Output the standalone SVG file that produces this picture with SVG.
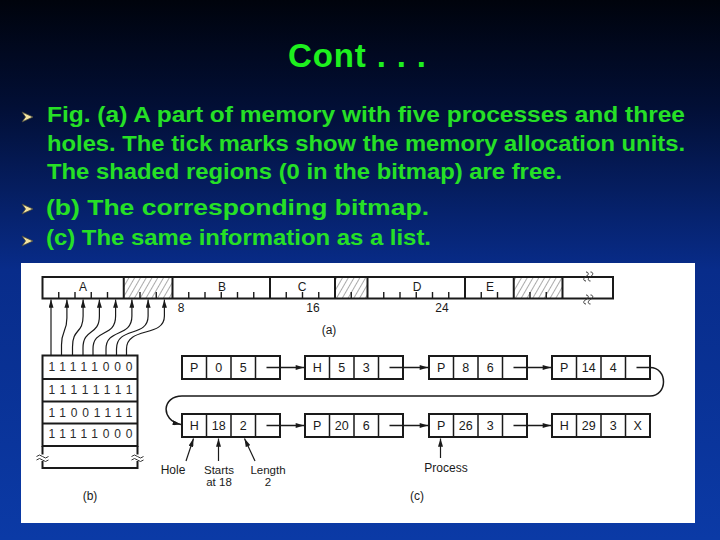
<svg xmlns="http://www.w3.org/2000/svg" width="720" height="540" viewBox="0 0 720 540">
<defs>
<linearGradient id="bg" x1="0" y1="0" x2="0" y2="1">
<stop offset="0" stop-color="#00030c"/>
<stop offset="0.2" stop-color="#020f36"/>
<stop offset="0.5" stop-color="#082c8a"/>
<stop offset="1" stop-color="#0b3aa6"/>
</linearGradient>
<pattern id="hatch" width="5" height="5" patternUnits="userSpaceOnUse" patternTransform="rotate(30)">
<line x1="0" y1="0" x2="0" y2="5" stroke="#444" stroke-width="0.9"/>
</pattern>
<marker id="ah" viewBox="0 0 10 6" refX="10" refY="3" markerWidth="9" markerHeight="5" orient="auto" markerUnits="userSpaceOnUse">
<path d="M0,0 L10,3 L0,6 z" fill="#1a1a1a"/>
</marker>
<style>
.ttl{font-family:"Liberation Sans",Arial,sans-serif;font-weight:bold;font-size:33px;fill:#1ef01e}
.bul{font-family:"Liberation Sans",Arial,sans-serif;font-weight:bold;font-size:22px;fill:#26e026}
.fig{font-family:"Liberation Sans",Arial,sans-serif;font-size:12px;fill:#1a1a1a}
.sm{font-size:11.5px}
.cell{font-family:"Liberation Sans",Arial,sans-serif;font-size:12.5px;fill:#1a1a1a;text-anchor:middle}
.bits{font-family:"Liberation Sans",Arial,sans-serif;font-size:12px;fill:#2a2a2a}
.box{fill:#fff;stroke:#1a1a1a;stroke-width:2}
.ln{fill:none;stroke:#1a1a1a;stroke-width:1.5}
.thin{fill:none;stroke:#1a1a1a;stroke-width:1.2}
.mid{text-anchor:middle}
.bp{fill:#f3e3a0;stroke:#4a4a3a;stroke-width:0.8}
</style>
</defs>
<rect width="720" height="540" fill="url(#bg)"/>

<g id="title">
<text class="ttl" x="288" y="67" textLength="138" lengthAdjust="spacing">Cont . . .</text>
</g>

<g id="bullets">
<polygon class="bp" points="22,112 33,117 22,122 25.5,117"/>
<polygon class="bp" points="22,204 33,209 22,214 25.5,209"/>
<polygon class="bp" points="22,236 33,241 22,246 25.5,241"/>
<text class="bul" x="47" y="122" textLength="638" lengthAdjust="spacingAndGlyphs">Fig. (a) A part of memory with five processes and three</text>
<text class="bul" x="47" y="150.5" textLength="638" lengthAdjust="spacingAndGlyphs">holes. The tick marks show the memory allocation units.</text>
<text class="bul" x="47" y="178.5" textLength="515" lengthAdjust="spacingAndGlyphs">The shaded regions (0 in the bitmap) are free.</text>
<text class="bul" x="46" y="215" textLength="383" lengthAdjust="spacingAndGlyphs">(b) The corresponding bitmap.</text>
<text class="bul" x="46" y="245" textLength="385" lengthAdjust="spacingAndGlyphs">(c) The same information as a list.</text>
</g>

<rect id="panel" x="21" y="263" width="674" height="260" fill="#ffffff"/>

<g id="memory">
<rect x="123.75" y="277" width="48.75" height="21.5" fill="url(#hatch)"/>
<rect x="335" y="277" width="32.5" height="21.5" fill="url(#hatch)"/>
<rect x="513.75" y="277" width="48.75" height="21.5" fill="url(#hatch)"/>
<rect x="42.5" y="277" width="570.5" height="21.5" fill="none" stroke="#1a1a1a" stroke-width="2"/>
<path d="M123.75,277V298.5M172.5,277V298.5M270,277V298.5M335,277V298.5M367.5,277V298.5M465,277V298.5M513.75,277V298.5M562.5,277V298.5" stroke="#1a1a1a" stroke-width="2"/>
<path d="M58.75,298v-6M75,298v-6M91.25,298v-6M107.5,298v-6M140,298v-6M156.25,298v-6M188.75,298v-6M205,298v-6M221.25,298v-6M237.5,298v-6M253.75,298v-6M286.25,298v-6M302.5,298v-6M318.75,298v-6M351.25,298v-6M383.75,298v-6M400,298v-6M416.25,298v-6M432.5,298v-6M448.75,298v-6M481.25,298v-6M497.5,298v-6M530,298v-6M546.25,298v-6" stroke="#1a1a1a" stroke-width="1.4"/>
<path d="M586,272 c3,0 3,3 0,4.5 c-3,1.5 -3,4.5 0,4.5 M590.5,272 c3,0 3,3 0,4.5 c-3,1.5 -3,4.5 0,4.5 M586,295 c3,0 3,3 0,4.5 c-3,1.5 -3,4.5 0,4.5 M590.5,295 c3,0 3,3 0,4.5 c-3,1.5 -3,4.5 0,4.5" fill="none" stroke="#333" stroke-width="1"/>
<text class="fig mid" x="83" y="290.5" font-size="11">A</text>
<text class="fig mid" x="222" y="290.5" font-size="11">B</text>
<text class="fig mid" x="302" y="290.5" font-size="11">C</text>
<text class="fig mid" x="417" y="290.5" font-size="11">D</text>
<text class="fig mid" x="490" y="290.5" font-size="11">E</text>
<text class="fig mid" x="181" y="311.5">8</text>
<text class="fig mid" x="313" y="311.5">16</text>
<text class="fig mid" x="442" y="311.5">24</text>
<text class="fig mid" x="329" y="333.5">(a)</text>
</g>

<g id="bitmap">
<rect x="42.5" y="355.5" width="95" height="90.5" fill="#fff" stroke="#1a1a1a" stroke-width="2"/>
<path d="M42.5,379H137.5M42.5,401.5H137.5M42.5,423.5H137.5" stroke="#1a1a1a" stroke-width="2"/>
<path d="M42.5,446V454.5M42.5,461V468H137.5V461M137.5,454.5V446" fill="none" stroke="#1a1a1a" stroke-width="2"/>
<path d="M36.5,456.5 q3,-3 6,0 t6,0 M36.5,460 q3,-3 6,0 t6,0 M131.5,456.5 q3,-3 6,0 t6,0 M131.5,460 q3,-3 6,0 t6,0" fill="none" stroke="#333" stroke-width="1"/>
<text class="bits" x="48.5" y="371" textLength="84" lengthAdjust="spacing">11111000</text>
<text class="bits" x="48.5" y="394" textLength="84" lengthAdjust="spacing">11111111</text>
<text class="bits" x="48.5" y="416.5" textLength="84" lengthAdjust="spacing">11001111</text>
<text class="bits" x="48.5" y="438" textLength="84" lengthAdjust="spacing">11111000</text>
<text class="fig mid" x="90" y="500">(b)</text>
</g>

<g id="n1"><rect class="box" x="182" y="356" width="98" height="23"/><path class="ln" d="M206.5,356V379M231,356V379M255.5,356V379" stroke-width="2"/><text class="cell" x="194.25" y="372">P</text><text class="cell" x="218.75" y="372">0</text><text class="cell" x="243.25" y="372">5</text></g>
<g id="n2"><rect class="box" x="305" y="356" width="98" height="23"/><path class="ln" d="M329.5,356V379M354,356V379M378.5,356V379" stroke-width="2"/><text class="cell" x="317.25" y="372">H</text><text class="cell" x="341.75" y="372">5</text><text class="cell" x="366.25" y="372">3</text></g>
<g id="n3"><rect class="box" x="429" y="356" width="98" height="23"/><path class="ln" d="M453.5,356V379M478,356V379M502.5,356V379" stroke-width="2"/><text class="cell" x="441.25" y="372">P</text><text class="cell" x="465.75" y="372">8</text><text class="cell" x="490.25" y="372">6</text></g>
<g id="n4"><rect class="box" x="552" y="356" width="98" height="23"/><path class="ln" d="M576.5,356V379M601,356V379M625.5,356V379" stroke-width="2"/><text class="cell" x="564.25" y="372">P</text><text class="cell" x="588.75" y="372">14</text><text class="cell" x="613.25" y="372">4</text></g>
<g id="n5"><rect class="box" x="182" y="414" width="98" height="23"/><path class="ln" d="M206.5,414V437M231,414V437M255.5,414V437" stroke-width="2"/><text class="cell" x="194.25" y="430">H</text><text class="cell" x="218.75" y="430">18</text><text class="cell" x="243.25" y="430">2</text></g>
<g id="n6"><rect class="box" x="305" y="414" width="98" height="23"/><path class="ln" d="M329.5,414V437M354,414V437M378.5,414V437" stroke-width="2"/><text class="cell" x="317.25" y="430">P</text><text class="cell" x="341.75" y="430">20</text><text class="cell" x="366.25" y="430">6</text></g>
<g id="n7"><rect class="box" x="429" y="414" width="98" height="23"/><path class="ln" d="M453.5,414V437M478,414V437M502.5,414V437" stroke-width="2"/><text class="cell" x="441.25" y="430">P</text><text class="cell" x="465.75" y="430">26</text><text class="cell" x="490.25" y="430">3</text></g>
<g id="n8"><rect class="box" x="552" y="414" width="98" height="23"/><path class="ln" d="M576.5,414V437M601,414V437M625.5,414V437" stroke-width="2"/><text class="cell" x="564.25" y="430">H</text><text class="cell" x="588.75" y="430">29</text><text class="cell" x="613.25" y="430">3</text><text class="cell" x="637.75" y="430">X</text></g>

<g id="labels">
<text class="fig mid" x="173" y="474">Hole</text>
<text class="fig sm mid" x="219" y="473.5">Starts</text>
<text class="fig sm mid" x="219" y="486">at 18</text>
<text class="fig sm mid" x="268" y="473.5">Length</text>
<text class="fig sm mid" x="268" y="486">2</text>
<text class="fig mid" x="446" y="472">Process</text>
<text class="fig mid" x="417" y="500">(c)</text>
</g>

<g id="connectors">
<path class="thin" marker-end="url(#ah)" d="M51,355.5V299.5"/>
<path class="thin" marker-end="url(#ah)" d="M61.5,355.5V345C61.5,330 66.9,332 66.9,318V299.5"/>
<path class="thin" marker-end="url(#ah)" d="M72.5,355.5V347C72.5,328 83.1,334 83.1,316V299.5"/>
<path class="thin" marker-end="url(#ah)" d="M83,355.5V348C83,328 99.4,336 99.4,316V299.5"/>
<path class="thin" marker-end="url(#ah)" d="M93,355.5V349C93,328 115.6,338 115.6,316V299.5"/>
<path class="thin" marker-end="url(#ah)" d="M106,355.5V349C106,328 131.9,338 131.9,316V299.5"/>
<path class="thin" marker-end="url(#ah)" d="M116.5,355.5V349C116.5,326 148.1,338 148.1,316V299.5"/>
<path class="thin" marker-end="url(#ah)" d="M126.5,355.5V349C126.5,326 164.4,338 164.4,316V299.5"/>
<path class="ln" marker-end="url(#ah)" d="M266.5,367.5H304"/>
<path class="ln" marker-end="url(#ah)" d="M389.5,367.5H428"/>
<path class="ln" marker-end="url(#ah)" d="M513.5,367.5H551"/>
<path class="ln" marker-end="url(#ah)" d="M636.5,367.5H650C668,367.5 668,396 650,396H182C162,396 160,420 181,424.5"/>
<path class="ln" marker-end="url(#ah)" d="M266.5,425.5H304"/>
<path class="ln" marker-end="url(#ah)" d="M389.5,425.5H428"/>
<path class="ln" marker-end="url(#ah)" d="M513.5,425.5H551"/>
<path class="thin" marker-end="url(#ah)" d="M186,461L193.5,438.5"/>
<path class="thin" marker-end="url(#ah)" d="M218.5,461V438.5"/>
<path class="thin" marker-end="url(#ah)" d="M255,461L244.5,438.5"/>
<path class="thin" marker-end="url(#ah)" d="M440.5,458V438.5"/>
</g>
</svg>
